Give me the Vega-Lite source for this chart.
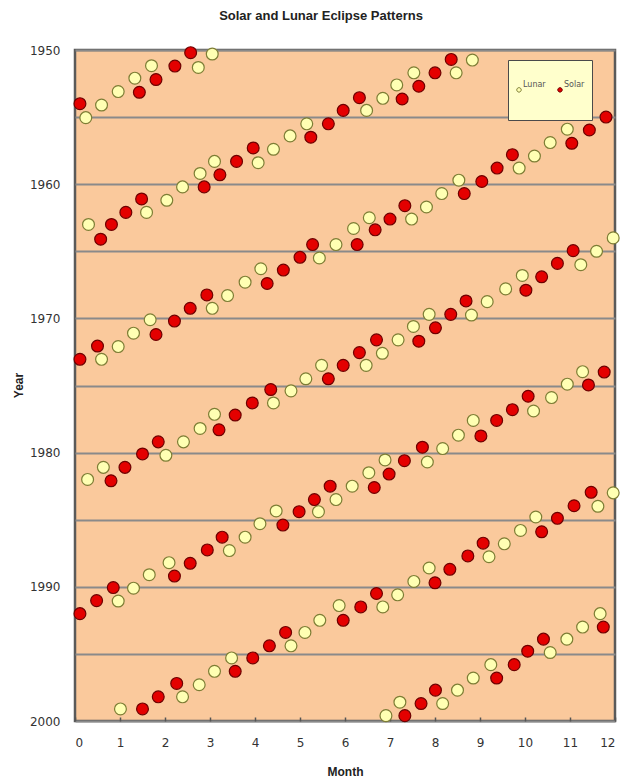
{
  "$schema": "https://vega.github.io/schema/vega-lite/v6.json",
  "width": 540,
  "height": 671,
  "autosize": {"type": "none"},
  "padding": {"left": 75, "top": 50, "right": 6, "bottom": 57},
  "background": "white",
  "title": {
    "text": "Solar and Lunar Eclipse Patterns",
    "font": "Liberation Sans",
    "fontSize": 13,
    "fontWeight": "bold",
    "color": "#222",
    "anchor": "middle",
    "offset": 21,
    "dx": -24
  },
  "config": {
    "view": {"fill": "#FAC99C", "stroke": "#5a5a5a", "strokeWidth": 2.5}
  },
  "data": {
    "values": [
      {"m": 0.11, "y": 1954.0, "t": "Solar"},
      {"m": 0.24, "y": 1955.04, "t": "Lunar"},
      {"m": 0.59, "y": 1954.1, "t": "Lunar"},
      {"m": 0.96, "y": 1953.1, "t": "Lunar"},
      {"m": 1.43, "y": 1953.15, "t": "Solar"},
      {"m": 1.33, "y": 1952.1, "t": "Lunar"},
      {"m": 1.8, "y": 1952.2, "t": "Solar"},
      {"m": 1.7, "y": 1951.17, "t": "Lunar"},
      {"m": 2.22, "y": 1951.2, "t": "Solar"},
      {"m": 2.57, "y": 1950.2, "t": "Solar"},
      {"m": 2.74, "y": 1951.3, "t": "Lunar"},
      {"m": 3.05, "y": 1950.3, "t": "Lunar"},

      {"m": 0.3, "y": 1963.0, "t": "Lunar"},
      {"m": 0.81, "y": 1963.0, "t": "Solar"},
      {"m": 1.13, "y": 1962.1, "t": "Solar"},
      {"m": 1.59, "y": 1962.1, "t": "Lunar"},
      {"m": 1.48, "y": 1961.1, "t": "Solar"},
      {"m": 2.04, "y": 1961.2, "t": "Lunar"},
      {"m": 2.39, "y": 1960.2, "t": "Lunar"},
      {"m": 2.87, "y": 1960.2, "t": "Solar"},
      {"m": 2.78, "y": 1959.2, "t": "Lunar"},
      {"m": 3.22, "y": 1959.3, "t": "Solar"},
      {"m": 3.1, "y": 1958.3, "t": "Lunar"},
      {"m": 3.59, "y": 1958.3, "t": "Solar"},
      {"m": 4.07, "y": 1958.4, "t": "Lunar"},
      {"m": 3.96, "y": 1957.3, "t": "Solar"},
      {"m": 4.41, "y": 1957.4, "t": "Lunar"},
      {"m": 4.78, "y": 1956.4, "t": "Lunar"},
      {"m": 5.24, "y": 1956.5, "t": "Solar"},
      {"m": 5.15, "y": 1955.5, "t": "Lunar"},
      {"m": 5.63, "y": 1955.5, "t": "Solar"},
      {"m": 5.96, "y": 1954.5, "t": "Solar"},
      {"m": 6.48, "y": 1954.5, "t": "Lunar"},
      {"m": 6.32, "y": 1953.55, "t": "Solar"},
      {"m": 6.84, "y": 1953.6, "t": "Lunar"},
      {"m": 7.27, "y": 1953.65, "t": "Solar"},
      {"m": 7.15, "y": 1952.6, "t": "Lunar"},
      {"m": 7.64, "y": 1952.7, "t": "Solar"},
      {"m": 7.53, "y": 1951.7, "t": "Lunar"},
      {"m": 8.0, "y": 1951.7, "t": "Solar"},
      {"m": 8.47, "y": 1951.7, "t": "Lunar"},
      {"m": 8.36, "y": 1950.7, "t": "Solar"},
      {"m": 8.83, "y": 1950.75, "t": "Lunar"},

      {"m": 0.57, "y": 1964.1, "t": "Solar"},

      {"m": 0.11, "y": 1973.05, "t": "Solar"},
      {"m": 0.59, "y": 1973.05, "t": "Lunar"},
      {"m": 0.5, "y": 1972.06, "t": "Solar"},
      {"m": 0.96, "y": 1972.1, "t": "Lunar"},
      {"m": 1.3, "y": 1971.1, "t": "Lunar"},
      {"m": 1.8, "y": 1971.2, "t": "Solar"},
      {"m": 1.67, "y": 1970.1, "t": "Lunar"},
      {"m": 2.21, "y": 1970.2, "t": "Solar"},
      {"m": 2.56, "y": 1969.25, "t": "Solar"},
      {"m": 3.05, "y": 1969.25, "t": "Lunar"},
      {"m": 2.93, "y": 1968.25, "t": "Solar"},
      {"m": 3.39, "y": 1968.3, "t": "Lunar"},
      {"m": 3.78, "y": 1967.3, "t": "Lunar"},
      {"m": 4.27, "y": 1967.4, "t": "Solar"},
      {"m": 4.13, "y": 1966.3, "t": "Lunar"},
      {"m": 4.63, "y": 1966.4, "t": "Solar"},
      {"m": 5.0, "y": 1965.45, "t": "Solar"},
      {"m": 5.43, "y": 1965.5, "t": "Lunar"},
      {"m": 5.28, "y": 1964.5, "t": "Solar"},
      {"m": 5.8, "y": 1964.5, "t": "Lunar"},
      {"m": 6.27, "y": 1964.5, "t": "Solar"},
      {"m": 6.19, "y": 1963.3, "t": "Lunar"},
      {"m": 6.67, "y": 1963.4, "t": "Solar"},
      {"m": 6.54, "y": 1962.5, "t": "Lunar"},
      {"m": 7.0, "y": 1962.6, "t": "Solar"},
      {"m": 7.48, "y": 1962.6, "t": "Lunar"},
      {"m": 7.33, "y": 1961.6, "t": "Solar"},
      {"m": 7.81, "y": 1961.7, "t": "Lunar"},
      {"m": 8.15, "y": 1960.7, "t": "Lunar"},
      {"m": 8.65, "y": 1960.7, "t": "Solar"},
      {"m": 8.53, "y": 1959.7, "t": "Lunar"},
      {"m": 9.04, "y": 1959.8, "t": "Solar"},
      {"m": 9.38, "y": 1958.8, "t": "Solar"},
      {"m": 9.87, "y": 1958.8, "t": "Lunar"},
      {"m": 9.72, "y": 1957.8, "t": "Solar"},
      {"m": 10.21, "y": 1957.9, "t": "Lunar"},
      {"m": 10.56, "y": 1956.9, "t": "Lunar"},
      {"m": 11.04, "y": 1956.95, "t": "Solar"},
      {"m": 10.94, "y": 1955.9, "t": "Lunar"},
      {"m": 11.43, "y": 1955.96, "t": "Solar"},
      {"m": 11.8, "y": 1955.0, "t": "Solar"},

      {"m": 0.28, "y": 1982.0, "t": "Lunar"},
      {"m": 0.8, "y": 1982.1, "t": "Solar"},
      {"m": 0.63, "y": 1981.1, "t": "Lunar"},
      {"m": 1.11, "y": 1981.1, "t": "Solar"},
      {"m": 1.5, "y": 1980.1, "t": "Solar"},
      {"m": 2.02, "y": 1980.2, "t": "Lunar"},
      {"m": 1.85, "y": 1979.2, "t": "Solar"},
      {"m": 2.41, "y": 1979.2, "t": "Lunar"},
      {"m": 2.78, "y": 1978.2, "t": "Lunar"},
      {"m": 3.2, "y": 1978.3, "t": "Solar"},
      {"m": 3.1, "y": 1977.15, "t": "Lunar"},
      {"m": 3.56, "y": 1977.2, "t": "Solar"},
      {"m": 3.94, "y": 1976.3, "t": "Solar"},
      {"m": 4.41, "y": 1976.3, "t": "Lunar"},
      {"m": 4.35, "y": 1975.3, "t": "Solar"},
      {"m": 4.8, "y": 1975.4, "t": "Lunar"},
      {"m": 5.13, "y": 1974.5, "t": "Lunar"},
      {"m": 5.63, "y": 1974.5, "t": "Solar"},
      {"m": 5.48, "y": 1973.5, "t": "Lunar"},
      {"m": 5.96, "y": 1973.5, "t": "Solar"},
      {"m": 6.47, "y": 1973.5, "t": "Lunar"},
      {"m": 6.32, "y": 1972.55, "t": "Solar"},
      {"m": 6.83, "y": 1972.6, "t": "Lunar"},
      {"m": 6.7, "y": 1971.6, "t": "Solar"},
      {"m": 7.18, "y": 1971.6, "t": "Lunar"},
      {"m": 7.64, "y": 1971.7, "t": "Solar"},
      {"m": 7.52, "y": 1970.6, "t": "Lunar"},
      {"m": 8.01, "y": 1970.7, "t": "Solar"},
      {"m": 7.87, "y": 1969.7, "t": "Lunar"},
      {"m": 8.35, "y": 1969.7, "t": "Solar"},
      {"m": 8.81, "y": 1969.75, "t": "Lunar"},
      {"m": 8.69, "y": 1968.7, "t": "Solar"},
      {"m": 9.16, "y": 1968.75, "t": "Lunar"},
      {"m": 9.57, "y": 1967.8, "t": "Lunar"},
      {"m": 10.02, "y": 1967.9, "t": "Solar"},
      {"m": 9.94, "y": 1966.8, "t": "Lunar"},
      {"m": 10.37, "y": 1966.9, "t": "Solar"},
      {"m": 10.72, "y": 1965.9, "t": "Solar"},
      {"m": 11.24, "y": 1966.0, "t": "Lunar"},
      {"m": 11.07, "y": 1964.95, "t": "Solar"},
      {"m": 11.59, "y": 1965.0, "t": "Lunar"},
      {"m": 11.96, "y": 1964.0, "t": "Lunar"},

      {"m": 0.11, "y": 1992.0, "t": "Solar"},
      {"m": 0.48, "y": 1991.03, "t": "Solar"},
      {"m": 0.96, "y": 1991.06, "t": "Lunar"},
      {"m": 0.85, "y": 1990.06, "t": "Solar"},
      {"m": 1.3, "y": 1990.1, "t": "Lunar"},
      {"m": 1.65, "y": 1989.1, "t": "Lunar"},
      {"m": 2.21, "y": 1989.2, "t": "Solar"},
      {"m": 2.09, "y": 1988.2, "t": "Lunar"},
      {"m": 2.56, "y": 1988.25, "t": "Solar"},
      {"m": 2.94, "y": 1987.25, "t": "Solar"},
      {"m": 3.43, "y": 1987.3, "t": "Lunar"},
      {"m": 3.27, "y": 1986.3, "t": "Solar"},
      {"m": 3.78, "y": 1986.3, "t": "Lunar"},
      {"m": 4.11, "y": 1985.3, "t": "Lunar"},
      {"m": 4.62, "y": 1985.4, "t": "Solar"},
      {"m": 4.47, "y": 1984.35, "t": "Lunar"},
      {"m": 4.98, "y": 1984.4, "t": "Solar"},
      {"m": 5.41, "y": 1984.4, "t": "Lunar"},
      {"m": 5.32, "y": 1983.5, "t": "Solar"},
      {"m": 5.8, "y": 1983.5, "t": "Lunar"},
      {"m": 5.67, "y": 1982.5, "t": "Solar"},
      {"m": 6.16, "y": 1982.5, "t": "Lunar"},
      {"m": 6.65, "y": 1982.6, "t": "Solar"},
      {"m": 6.53, "y": 1981.5, "t": "Lunar"},
      {"m": 6.98, "y": 1981.6, "t": "Solar"},
      {"m": 6.89, "y": 1980.55, "t": "Lunar"},
      {"m": 7.32, "y": 1980.6, "t": "Solar"},
      {"m": 7.83, "y": 1980.7, "t": "Lunar"},
      {"m": 7.72, "y": 1979.6, "t": "Solar"},
      {"m": 8.17, "y": 1979.7, "t": "Lunar"},
      {"m": 8.52, "y": 1978.7, "t": "Lunar"},
      {"m": 9.02, "y": 1978.76, "t": "Solar"},
      {"m": 9.37, "y": 1977.6, "t": "Solar"},
      {"m": 8.85, "y": 1977.6, "t": "Lunar"},
      {"m": 9.72, "y": 1976.8, "t": "Solar"},
      {"m": 10.19, "y": 1976.9, "t": "Lunar"},
      {"m": 10.07, "y": 1975.8, "t": "Solar"},
      {"m": 10.59, "y": 1975.9, "t": "Lunar"},
      {"m": 10.94, "y": 1974.9, "t": "Lunar"},
      {"m": 11.41, "y": 1974.96, "t": "Solar"},
      {"m": 11.28, "y": 1973.97, "t": "Lunar"},
      {"m": 11.76, "y": 1974.0, "t": "Solar"},

      {"m": 1.01, "y": 1999.1, "t": "Lunar"},
      {"m": 1.5, "y": 1999.1, "t": "Solar"},
      {"m": 1.85, "y": 1998.2, "t": "Solar"},
      {"m": 2.39, "y": 1998.2, "t": "Lunar"},
      {"m": 2.26, "y": 1997.2, "t": "Solar"},
      {"m": 2.76, "y": 1997.3, "t": "Lunar"},
      {"m": 3.1, "y": 1996.3, "t": "Lunar"},
      {"m": 3.56, "y": 1996.3, "t": "Solar"},
      {"m": 3.48, "y": 1995.3, "t": "Lunar"},
      {"m": 3.95, "y": 1995.3, "t": "Solar"},
      {"m": 4.32, "y": 1994.4, "t": "Solar"},
      {"m": 4.8, "y": 1994.4, "t": "Lunar"},
      {"m": 4.68, "y": 1993.4, "t": "Solar"},
      {"m": 5.11, "y": 1993.4, "t": "Lunar"},
      {"m": 5.44, "y": 1992.5, "t": "Lunar"},
      {"m": 5.96, "y": 1992.5, "t": "Solar"},
      {"m": 5.87, "y": 1991.4, "t": "Lunar"},
      {"m": 6.35, "y": 1991.5, "t": "Solar"},
      {"m": 6.84, "y": 1991.5, "t": "Lunar"},
      {"m": 6.7, "y": 1990.5, "t": "Solar"},
      {"m": 7.17, "y": 1990.6, "t": "Lunar"},
      {"m": 7.53, "y": 1989.6, "t": "Lunar"},
      {"m": 8.0, "y": 1989.7, "t": "Solar"},
      {"m": 7.87, "y": 1988.6, "t": "Lunar"},
      {"m": 8.33, "y": 1988.7, "t": "Solar"},
      {"m": 8.73, "y": 1987.7, "t": "Solar"},
      {"m": 9.2, "y": 1987.76, "t": "Lunar"},
      {"m": 9.07, "y": 1986.75, "t": "Solar"},
      {"m": 9.54, "y": 1986.8, "t": "Lunar"},
      {"m": 9.9, "y": 1985.8, "t": "Lunar"},
      {"m": 10.37, "y": 1985.9, "t": "Solar"},
      {"m": 10.24, "y": 1984.8, "t": "Lunar"},
      {"m": 10.72, "y": 1984.9, "t": "Solar"},
      {"m": 11.09, "y": 1983.96, "t": "Solar"},
      {"m": 11.62, "y": 1984.0, "t": "Lunar"},
      {"m": 11.47, "y": 1982.96, "t": "Solar"},
      {"m": 11.96, "y": 1983.0, "t": "Lunar"},

      {"m": 6.91, "y": 1999.6, "t": "Lunar"},
      {"m": 7.33, "y": 1999.6, "t": "Solar"},
      {"m": 7.22, "y": 1998.6, "t": "Lunar"},
      {"m": 7.69, "y": 1998.7, "t": "Solar"},
      {"m": 8.17, "y": 1998.7, "t": "Lunar"},
      {"m": 8.01, "y": 1997.7, "t": "Solar"},
      {"m": 8.5, "y": 1997.7, "t": "Lunar"},
      {"m": 8.85, "y": 1996.8, "t": "Lunar"},
      {"m": 9.37, "y": 1996.8, "t": "Solar"},
      {"m": 9.24, "y": 1995.8, "t": "Lunar"},
      {"m": 9.76, "y": 1995.8, "t": "Solar"},
      {"m": 10.06, "y": 1994.8, "t": "Solar"},
      {"m": 10.56, "y": 1994.9, "t": "Lunar"},
      {"m": 10.41, "y": 1993.9, "t": "Solar"},
      {"m": 10.93, "y": 1993.9, "t": "Lunar"},
      {"m": 11.28, "y": 1993.0, "t": "Lunar"},
      {"m": 11.74, "y": 1993.0, "t": "Solar"},
      {"m": 11.67, "y": 1992.0, "t": "Lunar"}
    ]
  },
  "mark": {"type": "point", "shape": "circle", "filled": true, "size": 140, "strokeWidth": 1.2, "opacity": 1, "fillOpacity": 1, "strokeOpacity": 1, "clip": false},
  "encoding": {
    "x": {
      "field": "m",
      "type": "quantitative",
      "scale": {"domain": [0, 12], "nice": false, "zero": false},
      "axis": {
        "title": "Month",
        "values": [0, 1, 2, 3, 4, 5, 6, 7, 8, 9, 10, 11, 12],
        "grid": false,
        "domain": false,
        "ticks": true,
        "tickSize": -4,
        "tickColor": "#555",
        "tickWidth": 1.5,
        "labelFont": "DejaVu Sans",
        "labelFontSize": 12,
        "labelColor": "#333",
        "labelPadding": 20,
        "titleFont": "Liberation Sans",
        "titleFontSize": 12,
        "titleFontWeight": "bold",
        "titleColor": "#222",
        "titleBaseline": "middle",
        "titleY": 50
      }
    },
    "y": {
      "field": "y",
      "type": "quantitative",
      "scale": {"domain": [1950, 2000], "nice": false, "zero": false, "reverse": true},
      "axis": {
        "title": "Year",
        "values": [1950, 1955, 1960, 1965, 1970, 1975, 1980, 1985, 1990, 1995, 2000],
        "labelExpr": "datum.value % 10 == 0 ? datum.value : ''",
        "grid": true,
        "gridColor": "#8a8a8a",
        "gridWidth": 2,
        "domain": false,
        "ticks": false,
        "labelFont": "DejaVu Sans",
        "labelFontSize": 12,
        "labelColor": "#333",
        "labelPadding": 15,
        "titleFont": "Liberation Sans",
        "titleFontSize": 12,
        "titleFontWeight": "bold",
        "titleColor": "#222",
        "titleBaseline": "middle",
        "titleX": -57,
        "titleY": 335
      }
    },
    "fill": {
      "field": "t",
      "type": "nominal",
      "scale": {"domain": ["Lunar", "Solar"], "range": ["#FFFFB3", "#E40000"]},
      "legend": {
        "title": null,
        "orient": "none",
        "legendX": 433,
        "legendY": 10,
        "direction": "horizontal",
        "fillColor": "#FFFFCC",
        "strokeColor": "#4a4a4a",
        "padding": 7,
        "symbolType": "M0,17.8 L0,17.8 M-1,8.4 A1,1 0 1,1 1,8.4 A1,1 0 1,1 -1,8.4 Z",
        "symbolSize": 20,
        "symbolStrokeWidth": 1,
        "labelFont": "DejaVu Sans",
        "labelFontSize": 8,
        "labelColor": "#555",
        "labelOffset": 0,
        "labelBaseline": "top",
        "labelLineHeight": 18.5,
        "labelExpr": "[' ', datum.label]",
        "columnPadding": 9,
        "encode": {
          "legend": {"update": {"strokeWidth": {"value": 2}}}
        }
      }
    },
    "stroke": {
      "field": "t",
      "type": "nominal",
      "scale": {"domain": ["Lunar", "Solar"], "range": ["#7d7d35", "#6e0000"]},
      "legend": null
    }
  }
}
